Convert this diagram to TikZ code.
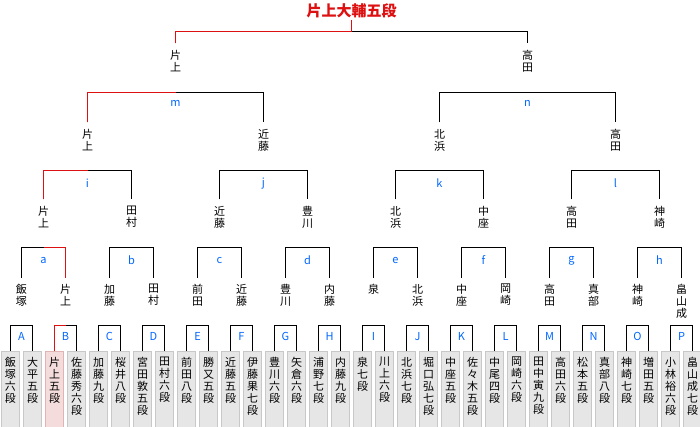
\documentclass[tikz,border=0pt]{standalone}
\usepackage{fontspec}
\usepackage{tikz}
\usetikzlibrary{positioning}
\newfontfamily\jpfont{Noto Sans CJK JP}
\definecolor{rojowin}{RGB}{221,17,17}
\definecolor{azullabel}{RGB}{0,102,255}
\definecolor{grisfondo}{RGB}{230,230,230}
\definecolor{grisborde}{RGB}{200,200,200}
\definecolor{rosafondo}{RGB}{245,220,220}
\definecolor{rosaborde}{RGB}{225,180,180}

\begin{document}
\begin{tikzpicture}[
			x=1pt, y=-1pt,
			every node/.style = {
				font=\jpfont\fontsize{11}{12}\selectfont,
				inner sep=0pt
			},
			player/.style = {
				anchor=north,
				draw=grisborde,
				fill=grisfondo,
				align=center,
				minimum width=18pt,
				inner ysep=6.5pt,
				text depth=70pt
			},
			box3/.style = {draw=rosaborde, fill=rosafondo},
			winner/.style = {anchor=north, align=center, inner ysep=6.5pt},
			lbl/.style = {text=azullabel},
			conn/.style = {line width=1pt},
			win/.style = {conn, draw=rojowin}
			]
			
			\useasboundingbox (0,0) rectangle (700,427);
			\clip (0,0) rectangle (700,427);
			
			\begin{scope}[xshift=0.5pt, yshift=-0.5pt]
			% jugadores
			\foreach \t [count=\i] in {{飯\\塚\\六\\段},{大\\平\\五\\段},{片\\上\\五\\段},{佐\\藤\\秀\\六\\段},
				{加\\藤\\九\\段},{桜\\井\\八\\段},{宮\\田\\敦\\五\\段},{田\\村\\六\\段},
				{前\\田\\八\\段},{勝\\又\\五\\段},{近\\藤\\五\\段},{伊\\藤\\果\\七\\段},
				{豊\\川\\六\\段},{矢\\倉\\六\\段},{浦\\野\\七\\段},{内\\藤\\九\\段},
				{泉\\七\\段},{川\\上\\六\\段},{北\\浜\\七\\段},{堀\\口\\弘\\七\\段},
				{中\\座\\五\\段},{佐\\々\\木\\五\\段},{中\\尾\\四\\段},{岡\\崎\\六\\段},
				{田\\中\\寅\\九\\段},{高\\田\\六\\段},{松\\本\\五\\段},{真\\部\\八\\段},
				{神\\崎\\七\\段},{増\\田\\五\\段},{小\\林\\裕\\六\\段},{畠\\山\\成\\七\\段}}
				\node[player, box\i/.try] (p\i) at ({22*\i-12},350) {\t};
			
			% ganadores
			\foreach \t [count=\i] in {{飯\\塚},{片\\上},{加\\藤},{田\\村},{前\\田},{近\\藤},{豊\\川},{内\\藤},
				{泉},{北\\浜},{中\\座},{岡\\崎},{高\\田},{真\\部},{神\\崎},{畠\\山\\成}}
				\node[winner] (w1-\i) at ({44*\i-23},277) {\t};
			\foreach \t [count=\i] in {{片\\上},{田\\村},{近\\藤},{豊\\川},{北\\浜},{中\\座},{高\\田},{神\\崎}}
				\node[winner] (w2-\i) at ({88*\i-45},199) {\t};
			\foreach \t [count=\i] in {{片\\上},{近\\藤},{北\\浜},{高\\田}}
				\node[winner] (w3-\i) at ({176*\i-89},122) {\t};
			\foreach \t [count=\i] in {{片\\上},{高\\田}}
				\node[winner] (w4-\i) at ({352*\i-177},43) {\t};
			\node[font=\jpfont\bfseries\fontsize{15}{15}\selectfont, text=rojowin, inner ysep=2pt] (champ) at (351,10) {片上大輔五段};
			
			% partidas
			\foreach \l [count=\i, evaluate=\i as \x using int(44*\i-23), evaluate=\i as \j using int(2*\i-1), evaluate=\i as \k using int(2*\i)] in {A,B,C,D,E,F,G,H,I,J,K,L,M,N,O,P}
			{
				\coordinate (g1-\i) at (\x,325);
				\node[lbl] (t1-\i) at (\x,336) {\l};
				\draw[conn] (p\j.north) |- (g1-\i) -| (p\k.north);
			}
			\foreach \l [count=\i, evaluate=\i as \x using int(88*\i-45), evaluate=\i as \j using int(2*\i-1), evaluate=\i as \k using int(2*\i)] in {a,b,c,d,e,f,g,h}
			{
				\coordinate (g2-\i) at (\x,247);
				\node[lbl] (t2-\i) at (\x,260) {\l};
				\draw[conn] (w1-\j.north) |- (g2-\i) -| (w1-\k.north);
			}
			\foreach \l [count=\i, evaluate=\i as \x using int(176*\i-89), evaluate=\i as \j using int(2*\i-1), evaluate=\i as \k using int(2*\i)] in {i,j,k,l}
			{
				\coordinate (g3-\i) at (\x,170);
				\node[lbl] (t3-\i) at (\x,183) {\l};
				\draw[conn] (w2-\j.north) |- (g3-\i) -| (w2-\k.north);
			}
			\foreach \l [count=\i, evaluate=\i as \x using int(352*\i-177), evaluate=\i as \j using int(2*\i-1), evaluate=\i as \k using int(2*\i)] in {m,n}
			{
				\coordinate (g4-\i) at (\x,92);
				\node[lbl] (t4-\i) at (\x,103) {\l};
				\draw[conn] (w3-\j.north) |- (g4-\i) -| (w3-\k.north);
			}
			\coordinate (gfinal) at (351,31);
			\draw[conn] (w4-1.north) |- (gfinal) -| (w4-2.north);
			
			% camino del campeon
			\draw[win] (p3.north) |- (g1-2);
			\draw[win] (w1-2.north) |- (g2-1);
			\draw[win] (w2-1.north) |- (g3-1);
			\draw[win] (w3-1.north) |- (g4-1);
			\draw[win] (w4-1.north) |- (gfinal);
			\draw[win] (champ.south) -- (gfinal);
			\end{scope}
			
		\end{tikzpicture}
\end{document}
